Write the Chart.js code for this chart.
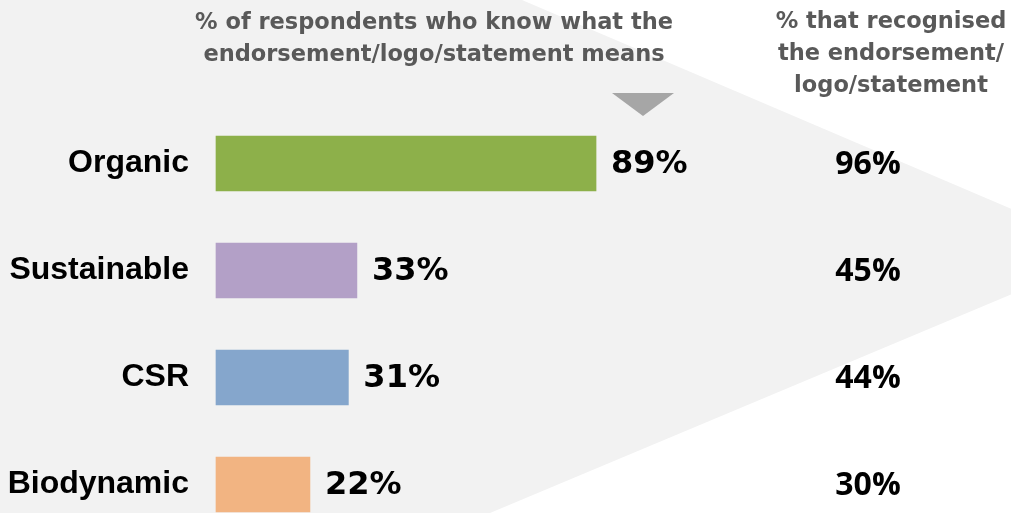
<!DOCTYPE html>
<html>
<head>
<meta charset="utf-8">
<script src="https://cdn.jsdelivr.net/npm/chart.js@4"></script>
<style>
  html, body { margin: 0; padding: 0; overflow: hidden; background: #ffffff; }
  #grafico { display: block; width: 1011px; height: 513px; }
</style>
</head>
<body>
<canvas id="grafico" width="1011" height="513"></canvas>
<script>
// datos
const categorias = ['Organic', 'Sustainable', 'CSR', 'Biodynamic'];
const sabenQueSignifica = [89, 33, 31, 22];
const reconocieron = [96, 45, 44, 30];
const tituloIzq = ['% of respondents who know what the', 'endorsement/logo/statement means'];
const tituloDer = ['% that recognised', 'the endorsement/', 'logo/statement'];

const coloresBarras = ['#8db04a', '#b3a0c7', '#85a6cc', '#f2b482'];
const grisFondo = '#f2f2f2';
const grisTexto = '#595959';
const fuenteTitulo = 'bold 22.5px "DejaVu Sans", sans-serif';

// fondo gris en forma de flecha
const fondo = {
    id: 'fondo',
    beforeDraw(chart) {
        const ctx = chart.ctx;
        ctx.save();
        ctx.fillStyle = '#ffffff';
        ctx.fillRect(0, 0, chart.width, chart.height);
        ctx.fillStyle = grisFondo;
        ctx.beginPath();
        ctx.moveTo(0, 0);
        ctx.lineTo(522, 0);
        ctx.lineTo(1112, 252);
        ctx.lineTo(490, 513);
        ctx.lineTo(0, 513);
        ctx.closePath();
        ctx.fill();
        ctx.restore();
    }
};

// titulos, triangulo y etiquetas de valores
const textos = {
    id: 'textos',
    afterDraw(chart) {
        const ctx = chart.ctx;
        const x = chart.scales.x;
        const barras = chart.getDatasetMeta(0).data;
        ctx.save();

        ctx.fillStyle = grisTexto;
        ctx.font = fuenteTitulo;
        ctx.textAlign = 'center';
        ctx.textBaseline = 'middle';
        tituloIzq.forEach((linea, i) => ctx.fillText(linea, 434, 23 + i * 32));
        tituloDer.forEach((linea, i) => ctx.fillText(linea, 891, 22 + i * 32));

        const puntaX = x.getPixelForValue(100);
        ctx.fillStyle = '#a6a6a6';
        ctx.beginPath();
        ctx.moveTo(puntaX - 31, 93);
        ctx.lineTo(puntaX + 31, 93);
        ctx.lineTo(puntaX, 116);
        ctx.closePath();
        ctx.fill();

        ctx.fillStyle = '#000000';
        ctx.textAlign = 'left';
        ctx.font = 'bold 32px "DejaVu Sans", sans-serif';
        barras.forEach((barra, i) => {
            ctx.fillText(sabenQueSignifica[i] + '%', barra.x + 15, barra.y + 1);
        });

        ctx.textAlign = 'center';
        ctx.font = 'bold 32px "Open Sans", Lato, sans-serif';
        barras.forEach((barra, i) => {
            ctx.fillText(reconocieron[i] + '%', 868, barra.y + 1);
        });
        ctx.restore();
    }
};

const chart = new Chart(document.getElementById('grafico'), {
    type: 'bar',
    data: {
        labels: categorias,
        datasets: [{
            label: '% know meaning',
            data: sabenQueSignifica,
            backgroundColor: coloresBarras,
            borderWidth: 0,
            barThickness: 55,
            clip: false
        }]
    },
    options: {
        indexAxis: 'y',
        responsive: false,
        maintainAspectRatio: false,
        animation: false,
        devicePixelRatio: 1,
        layout: { padding: { left: 0, top: 163.5, right: 368, bottom: 28.5 } },
        plugins: {
            legend: { display: false },
            tooltip: { enabled: false }
        },
        scales: {
            x: { display: false, min: 0, max: 100 },
            y: {
                offset: false,
                grid: { display: false, drawTicks: false },
                border: { display: false },
                afterFit(scale) {
                    scale.width = 216;
                    scale.paddingTop = 0;
                    scale.paddingBottom = 0;
                },
                ticks: {
                    color: '#000000',
                    padding: 27,
                    font: { family: '"Liberation Sans", Arial, sans-serif', size: 32, weight: 'bold' }
                }
            }
        }
    },
    plugins: [fondo, textos]
});
</script>
</body>
</html>
